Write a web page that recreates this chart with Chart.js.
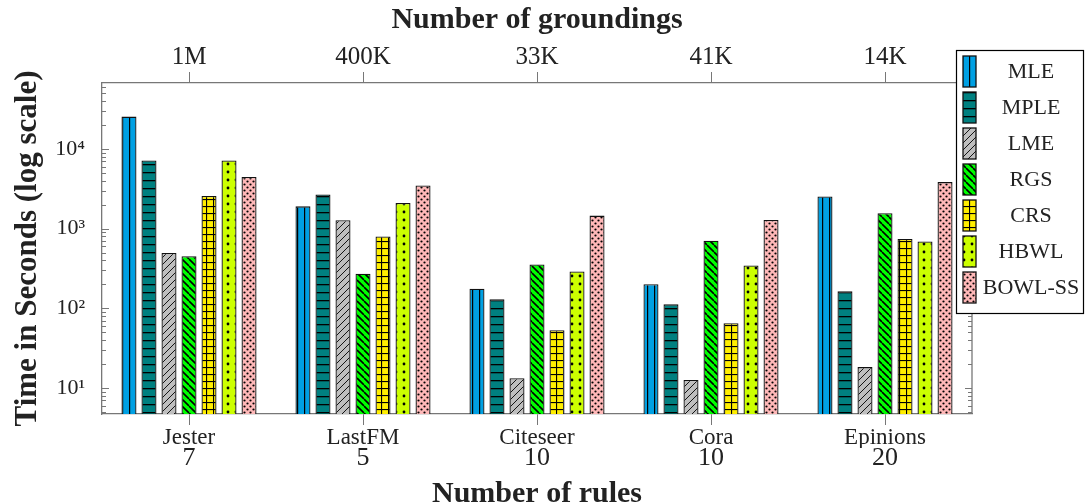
<!DOCTYPE html>
<html>
<head>
<meta charset="utf-8">
<title>Time in Seconds (log scale)</title>
<script src="https://cdn.jsdelivr.net/npm/chart.js@4.4.0/dist/chart.umd.min.js"></script>
<style>
  html, body { margin: 0; padding: 0; background: #fff; }
  #wrap { width: 1085px; height: 504px; }
</style>
</head>
<body>
<div id="wrap"><canvas id="timeChart"></canvas></div>
<script>
// categories and axis labels
const datasetNames = ['Jester', 'LastFM', 'Citeseer', 'Cora', 'Epinions'];
const ruleCounts   = ['7', '5', '10', '10', '20'];
const groundings   = ['1M', '400K', '33K', '41K', '14K'];
const methods      = ['MLE', 'MPLE', 'LME', 'RGS', 'CRS', 'HBWL', 'BOWL-SS'];

// seconds
const mleTimes   = [25400, 1900, 176, 200, 2520];
const mpleTimes  = [7130, 2670, 130, 112, 163];
const lmeTimes   = [495, 1270, 13.3, 12.6, 18.3];
const rgsTimes   = [449, 272, 355, 705, 1560];
const crsTimes   = [2570, 794, 53, 65, 740];
const hbwlTimes  = [7130, 2100, 290, 345, 690];
const bowlTimes  = [4450, 3470, 1455, 1285, 3830];

const yTickValues = [10, 100, 1000, 10000];
const yTickLabels = ['10\u00B9', '10\u00B2', '10\u00B3', '10\u2074'];

const series = [mleTimes, mpleTimes, lmeTimes, rgsTimes, crsTimes, hbwlTimes, bowlTimes];

// --- hatch patterns (pgfplots look) ---
function tile(size, bg, draw) {
  const c = document.createElement('canvas');
  c.width = size; c.height = size;
  const g = c.getContext('2d');
  g.fillStyle = bg;
  g.fillRect(0, 0, size, size);
  g.strokeStyle = '#000';
  g.fillStyle = '#000';
  draw(g, size);
  return g.createPattern(c, 'repeat');
}
function diag(g, s, up, w) {
  g.lineWidth = w;
  g.beginPath();
  for (const o of [-s, 0, s]) {
    if (up) { g.moveTo(o, s); g.lineTo(o + s, 0); }
    else    { g.moveTo(o, 0); g.lineTo(o + s, s); }
  }
  g.stroke();
}
function dot(g, x, y, r) {
  g.beginPath(); g.arc(x, y, r, 0, Math.PI * 2); g.fill();
}

const fills = [
  tile(7, '#00a0e3', (g, s) => g.fillRect(3, 0, 1.2, s)),
  tile(8, '#008080', (g, s) => g.fillRect(0, 4, s, 1.3)),
  tile(7, '#bebebe', (g, s) => diag(g, s, true, 0.9)),
  tile(7, '#00ff00', (g, s) => diag(g, s, false, 1.6)),
  tile(7, '#ffee00', (g, s) => { g.fillRect(3, 0, 1.1, s); g.fillRect(0, 3, s, 1.1); }),
  tile(8, '#ccff00', (g, s) => dot(g, 4, 4, 1.4)),
  tile(6, '#ffb8b8', (g, s) => { dot(g, 1.5, 1.5, 1.1); dot(g, 4.5, 4.5, 1.1); })
];

const AXIS_GRAY = '#777';
const SERIF = "'Liberation Serif', 'DejaVu Serif', serif";
Chart.defaults.font.family = SERIF;
Chart.defaults.color = '#222';

// inner tick marks on both y sides + right frame line
const frame = {
  id: 'frame',
  afterDatasetsDraw(chart) {
    const { ctx, chartArea: a, scales: { y } } = chart;
    ctx.save();
    ctx.strokeStyle = AXIS_GRAY;
    ctx.lineWidth = 1;
    ctx.beginPath();
    for (let n = 0; n <= 4; n++) {
      for (let k = 1; k <= 9; k++) {
        const v = k * Math.pow(10, n);
        if (v < y.min || v > y.max) continue;
        const py = Math.round(y.getPixelForValue(v)) + 0.5;
        const len = k === 1 ? 7 : 4;
        ctx.moveTo(a.left, py); ctx.lineTo(a.left + len, py);
        ctx.moveTo(a.right, py); ctx.lineTo(a.right - len, py);
      }
    }
    ctx.stroke();
    ctx.lineWidth = 1.3;
    ctx.beginPath();
    ctx.moveTo(a.right, a.top); ctx.lineTo(a.right, a.bottom);
    ctx.stroke();
    ctx.restore();
  }
};

// boxed legend on the right, overlapping the frame
const legendBox = {
  id: 'legendBox',
  afterDraw(chart) {
    const ctx = chart.ctx;
    const x0 = 956, y0 = 50, w = 127, h = 263;
    ctx.save();
    ctx.fillStyle = '#fff';
    ctx.fillRect(x0, y0, w, h);
    ctx.strokeStyle = '#000';
    ctx.lineWidth = 1.2;
    ctx.strokeRect(x0 + 0.5, y0 + 0.5, w, h);
    ctx.font = '22px ' + SERIF;
    ctx.textAlign = 'center';
    ctx.textBaseline = 'middle';
    chart.data.datasets.forEach((ds, i) => {
      const top = y0 + 6 + i * 36;
      ctx.fillStyle = ds.backgroundColor;
      ctx.fillRect(963, top, 13, 31);
      ctx.lineWidth = 1.3;
      ctx.strokeStyle = '#111';
      ctx.strokeRect(963, top, 13, 31);
      ctx.fillStyle = '#222';
      ctx.fillText(ds.label, 1031, top + 16);
    });
    ctx.restore();
  }
};

new Chart(document.getElementById('timeChart').getContext('2d'), {
  type: 'bar',
  data: {
    labels: datasetNames,
    datasets: methods.map((m, i) => ({
      label: m,
      data: series[i],
      backgroundColor: fills[i],
      borderColor: '#111',
      borderWidth: 1.3,
      barPercentage: 0.75,
      categoryPercentage: 0.805
    }))
  },
  options: {
    responsive: true,
    maintainAspectRatio: false,
    animation: false,
    layout: { padding: { left: 0, right: 113, top: 0, bottom: 0 } },
    plugins: {
      legend: { display: false },
      tooltip: { enabled: false }
    },
    scales: {
      x: {
        type: 'category',
        position: 'bottom',
        offset: true,
        grid: { display: true, drawOnChartArea: false, offset: false, tickLength: 11, color: AXIS_GRAY },
        border: { display: true, color: AXIS_GRAY, width: 1.3 },
        ticks: { font: { size: 23, lineHeight: 1.1 }, padding: 0, maxRotation: 0, autoSkip: false },
        afterFit: s => { s.height = 34; }
      },
      x3: {
        type: 'category',
        position: 'bottom',
        labels: ruleCounts,
        offset: true,
        grid: { display: false, drawTicks: false, tickLength: 0 },
        border: { display: false },
        ticks: { font: { size: 26, lineHeight: 0.75 }, padding: 0, maxRotation: 0, autoSkip: false },
        title: { display: true, text: 'Number of rules', font: { size: 30, weight: 'bold', lineHeight: 0.85 }, padding: { top: 0, bottom: -3 } },
        afterFit: s => { s.height = 56; }
      },
      x2: {
        type: 'category',
        position: 'top',
        labels: groundings,
        offset: true,
        grid: { display: true, drawOnChartArea: false, offset: false, tickLength: 11, color: AXIS_GRAY },
        border: { display: true, color: AXIS_GRAY, width: 1.3 },
        ticks: { font: { size: 25 }, padding: 0, maxRotation: 0, autoSkip: false },
        title: { display: true, text: 'Number of groundings', font: { size: 30, weight: 'bold' }, padding: { top: 2, bottom: 0 } },
        afterFit: s => { s.height = 83; }
      },
      y: {
        type: 'logarithmic',
        min: 4.72,
        max: 67000,
        afterBuildTicks: s => { s.ticks = yTickValues.map(v => ({ value: v })); },
        grid: { display: false },
        border: { display: true, color: AXIS_GRAY, width: 1.3 },
        ticks: {
          font: { size: 22 },
          padding: 9,
          autoSkip: false,
          callback: v => { const i = yTickValues.indexOf(v); return i < 0 ? '' : yTickLabels[i]; }
        },
        title: { display: true, text: 'Time in Seconds (log scale)', font: { size: 31, weight: 'bold' }, padding: { top: 9, bottom: 0 } },
        afterFit: s => { s.width = 102; }
      }
    }
  },
  plugins: [frame, legendBox]
});
</script>
</body>
</html>
